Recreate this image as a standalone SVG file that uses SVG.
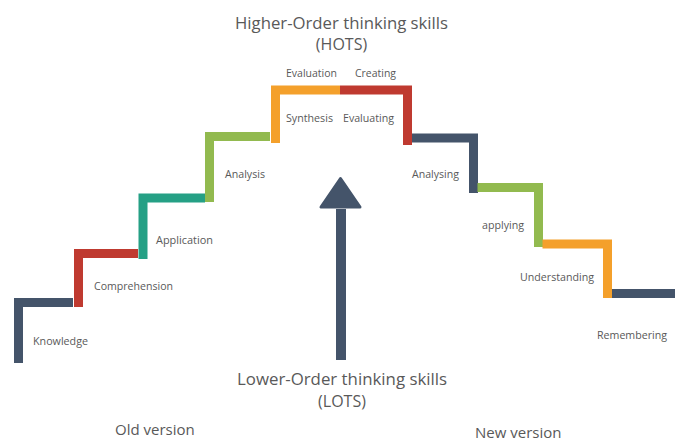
<svg xmlns="http://www.w3.org/2000/svg" width="675" height="441" viewBox="0 0 675 441">
<style>
.s{fill:none;stroke-width:9;stroke-linecap:butt;stroke-linejoin:miter}
.t{font-family:"Open Sans","Liberation Sans",sans-serif;font-size:10.5px;fill:#595959}
.h{font-family:"Open Sans","Liberation Sans",sans-serif;font-size:16px;fill:#595959;text-anchor:middle}
.v{font-family:"Open Sans","Liberation Sans",sans-serif;font-size:15px;fill:#595959}
.db{stroke:#44546A}.rd{stroke:#BF3A30}.tl{stroke:#25A085}.gr{stroke:#92BA4F}.or{stroke:#F4A02B}
</style>
<rect width="675" height="441" fill="#fff"/>
<g id="knowledge"><path class="s db" d="M18.5,363 V302.5 H73"/><text class="t" x="33" y="345" textLength="55" lengthAdjust="spacingAndGlyphs">Knowledge</text></g>
<g id="comprehension"><path class="s rd" d="M78.5,307 V253.5 H138"/><text class="t" x="94" y="290" textLength="79" lengthAdjust="spacingAndGlyphs">Comprehension</text></g>
<g id="application"><path class="s tl" d="M143,259 V198 H205"/><text class="t" x="156" y="244" textLength="57" lengthAdjust="spacingAndGlyphs">Application</text></g>
<g id="analysis"><path class="s gr" d="M209.5,202 V136.5 H270"/><text class="t" x="225" y="178" textLength="40" lengthAdjust="spacingAndGlyphs">Analysis</text></g>
<g id="synthesis"><path class="s or" d="M275.5,143 V90 H340"/><text class="t" x="286" y="122" textLength="47" lengthAdjust="spacingAndGlyphs">Synthesis</text><text class="t" x="286" y="77" textLength="51" lengthAdjust="spacingAndGlyphs">Evaluation</text></g>
<g id="creating"><path class="s rd" d="M340,90 H407.5 V145"/><text class="t" x="343" y="122" textLength="51" lengthAdjust="spacingAndGlyphs">Evaluating</text><text class="t" x="355" y="77" textLength="41" lengthAdjust="spacingAndGlyphs">Creating</text></g>
<g id="analysing"><path class="s db" d="M412,138 H473.5 V193"/><text class="t" x="412" y="178" textLength="47" lengthAdjust="spacingAndGlyphs">Analysing</text></g>
<g id="applying"><path class="s gr" d="M477.5,187.5 H538.5 V247"/><text class="t" x="482" y="229" textLength="42" lengthAdjust="spacingAndGlyphs">applying</text></g>
<g id="understanding"><path class="s or" d="M542.5,244 H607.5 V298"/><text class="t" x="520" y="281" textLength="74" lengthAdjust="spacingAndGlyphs">Understanding</text></g>
<g id="remembering"><path class="s db" d="M612,293.5 H675"/><text class="t" x="597" y="339" textLength="70" lengthAdjust="spacingAndGlyphs">Remembering</text></g>
<g id="hots"><text class="h" x="341.5" y="29" textLength="213" lengthAdjust="spacingAndGlyphs">Higher-Order thinking skills</text><text class="h" x="341.5" y="50">(HOTS)</text></g>
<g id="lots"><text class="h" x="342" y="385" textLength="210" lengthAdjust="spacingAndGlyphs">Lower-Order thinking skills</text><text class="h" x="342" y="407">(LOTS)</text></g>
<g id="old"><text class="v" x="115" y="435">Old version</text></g>
<g id="new"><text class="v" x="475" y="438">New version</text></g>
<g id="connectors"><rect x="336" y="209" width="10" height="151" fill="#44546A"/><polygon points="340.5,178.5 321,207 360,207" fill="#44546A" stroke="#44546A" stroke-width="3" stroke-linejoin="round"/></g>
</svg>
